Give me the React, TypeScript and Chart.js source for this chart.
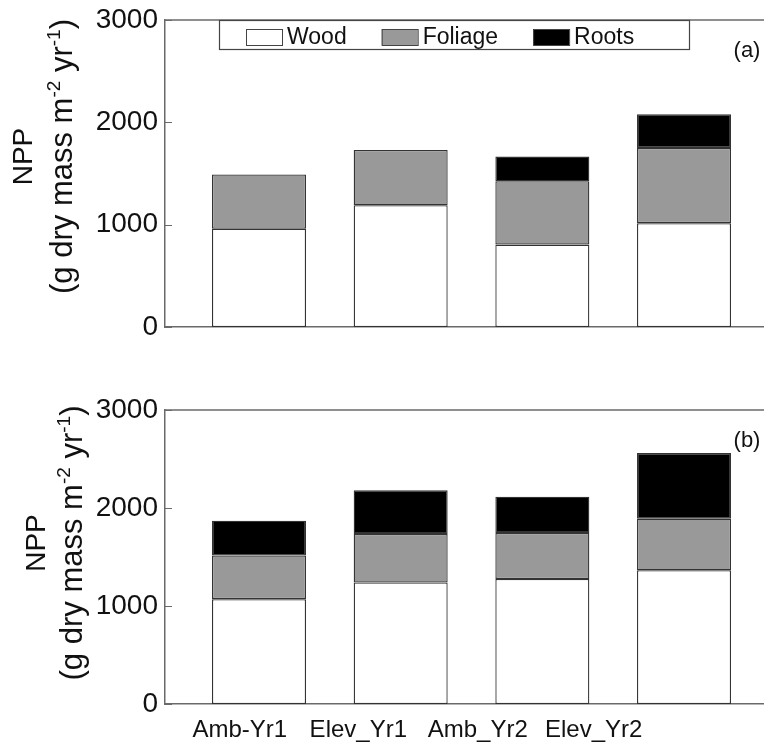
import React, { useEffect, useRef } from 'react';
import { Chart, registerables } from 'chart.js';

Chart.register(...registerables);

// ---- data ----
const categories = ['Amb-Yr1', 'Elev_Yr1', 'Amb_Yr2', 'Elev_Yr2'];
// where each category label sits on the x axis (labels in the source are not centred under the bars)
const categoryLabelPos = [0.864, 1.701, 2.544, 3.362];
const yTickValues = [0, 1000, 2000, 3000];
const seriesNames = ['Wood', 'Foliage', 'Roots'];
const seriesColors = ['#ffffff', '#999999', '#000000'];

const woodA = [960, 1190, 805, 1015];
const foliageA = [530, 540, 620, 735];
const rootsA = [null, null, 240, 330];

const woodB = [1070, 1240, 1275, 1365];
const foliageB = [445, 495, 470, 525];
const rootsB = [355, 445, 370, 670];

const titleLine1 = 'NPP';
const titleLine2: [string, boolean][] = [
  ['(g dry mass m', false],
  ['-2', true],
  [' yr', false],
  ['-1', true],
  [')', false],
];

const FONT = '"Liberation Sans", Arial, Helvetica, sans-serif';
const AXIS = '#6a6a6a';
const TEXT = '#111111';
const EDGE = '#333333';
const X_MIN = 0.3365;
const X_MAX = 4.621;

type PanelProps = {
  wood: (number | null)[];
  foliage: (number | null)[];
  roots: (number | null)[];
  tag: string;
  legend: boolean;
  height: number;
  padTop: number;
  xHeight: number;
  showX: boolean;
  titleBase: [number, number];
  titleDy: number;
};

function makeExtras(p: PanelProps) {
  return {
    id: 'panelExtras',
    afterDraw(chart: any) {
      const ctx = chart.ctx as CanvasRenderingContext2D;
      const { left, right, top, bottom } = chart.chartArea;
      const ys = chart.scales.y;
      ctx.save();
      // top frame line
      ctx.strokeStyle = AXIS;
      ctx.lineWidth = 1.5;
      ctx.beginPath();
      ctx.moveTo(left, top);
      ctx.lineTo(right, top);
      ctx.stroke();
      // inward tick marks
      ctx.beginPath();
      ys.ticks.forEach((t: any) => {
        const py = Math.round(ys.getPixelForValue(t.value)) + 0.5;
        ctx.moveTo(left, py);
        ctx.lineTo(left + 7, py);
      });
      ctx.lineWidth = 1.2;
      ctx.stroke();

      // panel tag
      ctx.fillStyle = TEXT;
      ctx.font = `22px ${FONT}`;
      ctx.textAlign = 'center';
      ctx.textBaseline = 'middle';
      ctx.fillText(p.tag, right - 25, top + 31);

      // y axis title (rotated)
      const cy = (top + bottom) / 2 + p.titleDy;
      ctx.save();
      ctx.translate(p.titleBase[0], cy);
      ctx.rotate(-Math.PI / 2);
      ctx.textBaseline = 'alphabetic';
      ctx.textAlign = 'center';
      ctx.font = `28px ${FONT}`;
      ctx.fillText(titleLine1, 0, 0);
      ctx.restore();

      ctx.save();
      ctx.translate(p.titleBase[1], cy);
      ctx.rotate(-Math.PI / 2);
      ctx.textBaseline = 'alphabetic';
      ctx.textAlign = 'left';
      const mainFont = `31px ${FONT}`;
      const supFont = `19px ${FONT}`;
      let total = 0;
      titleLine2.forEach(([s, sup]) => {
        ctx.font = sup ? supFont : mainFont;
        total += ctx.measureText(s).width;
      });
      let x = -total / 2;
      titleLine2.forEach(([s, sup]) => {
        ctx.font = sup ? supFont : mainFont;
        ctx.fillText(s, x, sup ? -12 : 0);
        x += ctx.measureText(s).width;
      });
      ctx.restore();

      // legend box
      if (p.legend) {
        const lx = left + 54;
        const lw = 470;
        const lh = 29;
        ctx.strokeStyle = '#444';
        ctx.lineWidth = 1.2;
        ctx.strokeRect(lx + 0.5, top + 0.5, lw, lh);
        ctx.font = `23px ${FONT}`;
        ctx.textAlign = 'left';
        ctx.textBaseline = 'middle';
        let ix = lx + 27;
        const my = top + 17;
        chart.data.datasets.forEach((ds: any) => {
          ctx.fillStyle = ds.backgroundColor;
          ctx.fillRect(ix, my - 8, 36, 16);
          ctx.strokeStyle = '#444';
          ctx.lineWidth = 1;
          ctx.strokeRect(ix + 0.5, my - 8 + 0.5, 36, 16);
          ctx.fillStyle = TEXT;
          ctx.fillText(ds.label, ix + 41, my + 1);
          ix += 36 + 5 + ctx.measureText(ds.label).width + 35;
        });
      }
      ctx.restore();
    },
  };
}

function Panel(p: PanelProps) {
  const ref = useRef<HTMLCanvasElement | null>(null);
  useEffect(() => {
    if (!ref.current) return;
    const series = [p.wood, p.foliage, p.roots];
    const chart = new Chart(ref.current, {
      type: 'bar',
      data: {
        datasets: series.map((vals, si) => ({
          label: seriesNames[si],
          data: vals.map((v, i) => ({ x: i + 1, y: v })) as any,
          backgroundColor: seriesColors[si],
          borderColor: EDGE,
          borderWidth: 1.3,
          borderSkipped: false,
          barPercentage: 0.6635,
          categoryPercentage: 1,
          xAxisID: 'x',
        })),
      },
      options: {
        responsive: false,
        animation: false,
        devicePixelRatio: 1,
        layout: { padding: { top: p.padTop, left: 0, right: 0, bottom: 0 } },
        plugins: { legend: { display: false }, tooltip: { enabled: false } },
        scales: {
          x: {
            type: 'linear',
            position: 'bottom',
            stacked: true,
            offset: false,
            min: X_MIN,
            max: X_MAX,
            grid: { display: false, drawTicks: false },
            border: { display: true, color: AXIS, width: 1.5 },
            afterBuildTicks: (s: any) => {
              s.ticks = categories.map((_, i) => ({ value: i + 1 }));
            },
            afterFit: (s: any) => {
              s.height = p.showX ? 0 : p.xHeight;
              s.paddingLeft = 0;
              s.paddingRight = 0;
            },
            ticks: { display: false },
          },
          xl: {
            type: 'linear',
            position: 'bottom',
            display: p.showX,
            offset: false,
            min: X_MIN,
            max: X_MAX,
            grid: { display: false, drawTicks: false },
            border: { display: false },
            afterBuildTicks: (s: any) => {
              s.ticks = categoryLabelPos.map((v) => ({ value: v }));
            },
            afterFit: (s: any) => {
              s.height = p.showX ? p.xHeight : 0;
              s.paddingLeft = 0;
              s.paddingRight = 0;
            },
            ticks: {
              autoSkip: false,
              maxRotation: 0,
              padding: 12,
              color: TEXT,
              font: { family: FONT, size: 24 },
              callback: (v: any) => {
                const i = categoryLabelPos.indexOf(Number(v));
                return i >= 0 ? categories[i] : '';
              },
            },
          },
          y: {
            stacked: true,
            min: 0,
            max: 3000,
            grid: { display: false, drawTicks: false },
            border: { display: true, color: AXIS, width: 1.5 },
            afterBuildTicks: (s: any) => {
              s.ticks = yTickValues.map((v) => ({ value: v }));
            },
            afterFit: (s: any) => {
              s.width = 157;
              s.paddingTop = 0;
              s.paddingBottom = 0;
            },
            ticks: {
              padding: 7,
              color: TEXT,
              font: { family: FONT, size: 28 },
              callback: (v: any) => String(v),
            },
          },
        },
      },
      plugins: [makeExtras(p)],
    } as any);
    return () => chart.destroy();
  }, []);
  return <canvas ref={ref} width={764} height={p.height} style={{ display: 'block' }} />;
}

export default function App() {
  return (
    <div style={{ width: 764, height: 735, overflow: 'hidden' }}>
      <Panel
        wood={woodA}
        foliage={foliageA}
        roots={rootsA}
        tag="(a)"
        legend={true}
        height={370}
        padTop={12}
        xHeight={51}
        showX={false}
        titleBase={[24, 64]}
        titleDy={-17}
      />
      <Panel
        wood={woodB}
        foliage={foliageB}
        roots={rootsB}
        tag="(b)"
        legend={false}
        height={365}
        padTop={32}
        xHeight={39}
        showX={true}
        titleBase={[37, 74]}
        titleDy={-14}
      />
    </div>
  );
}
